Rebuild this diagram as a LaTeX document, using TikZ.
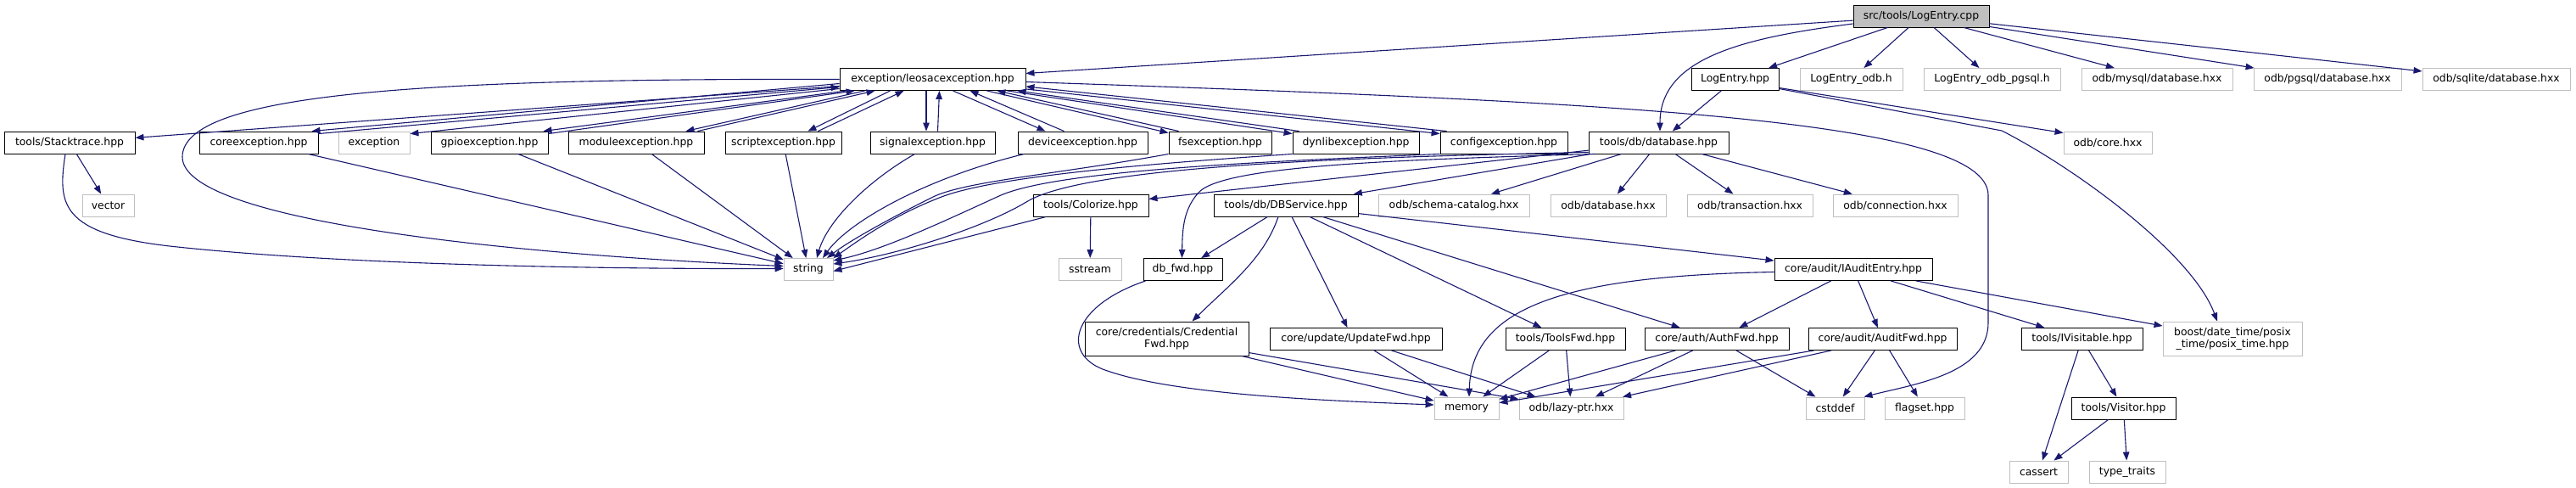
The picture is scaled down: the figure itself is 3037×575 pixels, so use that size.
\documentclass[tikz,border=0pt]{standalone}
\usepackage{fontspec}
\setmainfont{DejaVu Sans}
\usetikzlibrary{arrows.meta}
\definecolor{inclblue}{HTML}{191970}
\definecolor{extgray}{HTML}{BFBFBF}
\tikzset{
  file/.style={draw=black, line width=0.9pt, minimum height=26pt, inner sep=0pt,
    align=center, font=\fontsize{12.4}{14}\selectfont},
  extfile/.style={file, draw=extgray},
  incl/.style={draw=inclblue, line width=1.1pt, -{Triangle[length=10pt,width=7.5pt]}},
}
\begin{document}
\begin{tikzpicture}[x=1pt, y=-1pt]
  \useasboundingbox (0,0) rectangle (3037,575);
  % files, row by row
  \node[file, fill=extgray, minimum width=160pt] (cpp) at (2265,19) {src/tools/LogEntry.cpp};
  \node[file, minimum width=219pt] (leosac) at (1099.5,93.5) {exception/leosacexception.hpp};
  \node[file, minimum width=103pt] (logh) at (2045.5,93.5) {LogEntry.hpp};
  \node[extfile, minimum width=121pt] (odbh) at (2182.5,93.5) {LogEntry\_odb.h};
  \node[extfile, minimum width=161pt] (pgsqlh) at (2348.5,93.5) {LogEntry\_odb\_pgsql.h};
  \node[extfile, minimum width=178pt] (mysqldb) at (2543,93.5) {odb/mysql/database.hxx};
  \node[extfile, minimum width=174pt] (pgsqldb) at (2744,93.5) {odb/pgsql/database.hxx};
  \node[extfile, minimum width=174pt] (sqlitedb) at (2943,93.5) {odb/sqlite/database.hxx};

  \node[file, minimum width=154pt] (stack) at (82,168) {tools/Stacktrace.hpp};
  \node[file, minimum width=140pt] (coreexc) at (305,168) {coreexception.hpp};
  \node[extfile, minimum width=84pt] (exc) at (441,168) {exception};
  \node[file, minimum width=138pt] (gpioexc) at (577,168) {gpioexception.hpp};
  \node[file, minimum width=160pt] (moduleexc) at (750,168) {moduleexception.hpp};
  \node[file, minimum width=137pt] (scriptexc) at (923.5,168) {scriptexception.hpp};
  \node[file, minimum width=147pt] (signalexc) at (1099.5,168) {signalexception.hpp};
  \node[file, minimum width=153pt] (deviceexc) at (1276.5,168) {deviceexception.hpp};
  \node[file, minimum width=121pt] (fsexc) at (1438.5,168) {fsexception.hpp};
  \node[file, minimum width=149pt] (dynlibexc) at (1598.5,168) {dynlibexception.hpp};
  \node[file, minimum width=150pt] (configexc) at (1773,168) {configexception.hpp};
  \node[file, minimum width=165pt] (database) at (1955.5,168) {tools/db/database.hpp};
  \node[extfile, minimum width=104pt] (odbcore) at (2485,168) {odb/core.hxx};

  \node[extfile, minimum width=61pt] (vector) at (127.5,242) {vector};
  \node[file, minimum width=136pt] (colorize) at (1286,242) {tools/Colorize.hpp};
  \node[file, minimum width=170pt] (dbservice) at (1516,242) {tools/db/DBService.hpp};
  \node[extfile, minimum width=178pt] (schema) at (1714,242) {odb/schema-catalog.hxx};
  \node[extfile, minimum width=136pt] (odbdb) at (1896,242) {odb/database.hxx};
  \node[extfile, minimum width=148pt] (odbtrans) at (2063,242) {odb/transaction.hxx};
  \node[extfile, minimum width=147pt] (odbconn) at (2234.5,242) {odb/connection.hxx};

  \node[extfile, minimum width=58pt] (string) at (953,317.5) {string};
  \node[extfile, minimum width=74pt] (sstream) at (1285,317.5) {sstream};
  \node[file, minimum width=93pt] (dbfwd) at (1394.5,317.5) {db\_fwd.hpp};
  \node[file, minimum width=186pt] (iaudit) at (2185,317.5) {core/audit/IAuditEntry.hpp};

  \node[file, minimum width=193pt, minimum height=40pt] (credfwd) at (1375.5,399) {core/credentials/Credential\\Fwd.hpp};
  \node[file, minimum width=203pt] (updfwd) at (1598.5,399.5) {core/update/UpdateFwd.hpp};
  \node[file, minimum width=141pt] (toolsfwd) at (1845.5,399.5) {tools/ToolsFwd.hpp};
  \node[file, minimum width=170pt] (authfwd) at (2024,399.5) {core/auth/AuthFwd.hpp};
  \node[file, minimum width=175pt] (auditfwd) at (2219.5,399.5) {core/audit/AuditFwd.hpp};
  \node[file, minimum width=143pt] (ivisit) at (2454.5,399.5) {tools/IVisitable.hpp};
  \node[extfile, minimum width=164pt, minimum height=40pt] (boost) at (2632,399) {boost/date\_time/posix\\\_time/posix\_time.hpp};

  \node[extfile, minimum width=76pt] (memory) at (1729,481) {memory};
  \node[extfile, minimum width=123pt] (lazyptr) at (1852.5,481) {odb/lazy-ptr.hxx};
  \node[extfile, minimum width=69pt] (cstddef) at (2163.5,481) {cstddef};
  \node[extfile, minimum width=94pt] (flagset) at (2269,481) {flagset.hpp};
  \node[file, minimum width=123pt] (visitor) at (2503.5,481) {tools/Visitor.hpp};

  \node[extfile, minimum width=69pt] (cassert) at (2403.5,556) {cassert};
  \node[extfile, minimum width=90pt] (typetraits) at (2508,556) {type\_traits};

  % LogEntry.cpp
  \draw[incl] (cpp) -- (leosac);
  \draw[incl] ([yshift=-9pt]cpp.west) .. controls (2050,45) and (1957,70) .. ([xshift=1.5pt]database.north);
  \draw[incl] (cpp) -- (logh);
  \draw[incl] (cpp) -- (odbh);
  \draw[incl] (cpp) -- (pgsqlh);
  \draw[incl] (cpp) -- (mysqldb);
  \draw[incl] (cpp) -- (pgsqldb);
  \draw[incl] (cpp) -- (sqlitedb);
  % LogEntry.hpp
  \draw[incl] (logh) -- (database);
  \draw[incl] ([yshift=-10pt]logh.east) -- ([yshift=-2pt]odbcore.north west);
  \draw[incl] ([yshift=-11pt]logh.east) -- (2360,154) .. controls (2450,200) and (2585,300) .. ([xshift=-18pt]boost.north);
  % leosacexception.hpp and back
  \draw[incl] (leosac) -- (stack);
  \draw[incl] (leosac.west) .. controls (500,92) and (215,110) .. (215,185)
    .. controls (215,260) and (600,300) .. ([yshift=4pt]string.west);
  \draw[incl] ([yshift=-3pt]leosac.east) .. controls (1900,120) and (2344,140) .. (2344,230)
    -- (2344,380) .. controls (2344,440) and (2260,452) .. ([xshift=-1pt]cstddef.north east);
  \draw[incl] ([yshift=-5pt]leosac.west) -- ([xshift=-8pt]coreexc.north east);
  \draw[incl] ([yshift=-3pt]coreexc.north east) -- ([yshift=-9pt]leosac.west);
  \draw[incl] ([yshift=-11pt]leosac.west) -- ([yshift=-3pt]exc.north east);
  \draw[incl] ([xshift=8pt]leosac.south west) -- ([xshift=-6pt]gpioexc.north east);
  \draw[incl] ([yshift=-3pt]gpioexc.north east) -- ([xshift=18pt]leosac.south west);
  \draw[incl] ([xshift=30pt]leosac.south west) -- ([xshift=-22pt]moduleexc.north east);
  \draw[incl] ([xshift=-8pt]moduleexc.north east) -- ([xshift=42pt]leosac.south west);
  \draw[incl] ([xshift=60pt]leosac.south west) -- ([xshift=-40pt]scriptexc.north east);
  \draw[incl] ([xshift=-28pt]scriptexc.north east) -- ([xshift=76pt]leosac.south west);
  \draw[incl] ([xshift=-7.5pt]leosac.south) -- ([xshift=-7.5pt]signalexc.north);
  \draw[incl] ([xshift=6pt]signalexc.north) -- ([xshift=8pt]leosac.south);
  \draw[incl] ([xshift=24pt]leosac.south) -- ([xshift=-44pt]deviceexc.north);
  \draw[incl] ([xshift=-22pt]deviceexc.north) -- ([xshift=44pt]leosac.south);
  \draw[incl] ([xshift=64pt]leosac.south) -- ([yshift=-2pt]fsexc.north west);
  \draw[incl] ([xshift=12pt]fsexc.north west) -- ([xshift=76pt]leosac.south);
  \draw[incl] ([xshift=88pt]leosac.south) -- ([yshift=-3pt]dynlibexc.north west);
  \draw[incl] ([xshift=8pt]dynlibexc.north west) -- ([xshift=100pt]leosac.south);
  \draw[incl] ([yshift=2pt]leosac.south east) -- ([yshift=-3pt]configexc.north west);
  \draw[incl] ([xshift=8pt]configexc.north west) -- ([yshift=5pt]leosac.south east);
  % into string
  \draw[incl] (stack) -- (vector);
  \draw[incl] ([xshift=-5pt]stack.south) .. controls (68,240) and (70,275) .. (200,290)
    .. controls (400,312) and (700,317) .. ([yshift=1pt]string.west);
  \draw[incl] (coreexc) -- (string);
  \draw[incl] (gpioexc) -- (string);
  \draw[incl] (moduleexc) -- (string);
  \draw[incl] (scriptexc) -- (string);
  \draw[incl] ([xshift=-21pt]signalexc.south) .. controls (1020,215) and (975,262) .. ([xshift=10pt]string.north);
  \draw[incl] ([xshift=-69pt]deviceexc.south) .. controls (1090,210) and (1000,262) .. ([xshift=17pt]string.north);
  \draw[incl] (fsexc.south west) .. controls (1250,205) and (1140,213) .. (1100,232)
    .. controls (1040,262) and (1000,285) .. ([xshift=22pt]string.north);
  \draw[incl] (dynlibexc.south west) .. controls (1400,190) and (1180,205) .. (1110,232)
    .. controls (1050,255) and (1010,285) .. (string.north east);
  \draw[incl] (configexc.south west) .. controls (1500,190) and (1250,200) .. (1180,230)
    .. controls (1110,262) and (1040,295) .. ([yshift=-3pt]string.north east);
  \draw[incl] ([yshift=2pt]database.south west) .. controls (1600,185) and (1280,195) .. (1210,238)
    .. controls (1160,268) and (1060,300) .. ([yshift=-7pt]string.north east);
  \draw[incl] (colorize) -- ([yshift=-2pt]string.east);
  \draw[incl] (colorize) -- (sstream);
  % tools/db/database.hpp
  \draw[incl] (database) -- (colorize);
  \draw[incl] (database) -- (dbservice);
  \draw[incl] ([xshift=8pt]database.south west) .. controls (1650,188) and (1450,195) .. (1415,225)
    .. controls (1395,245) and (1394,270) .. ([xshift=-1pt]dbfwd.north);
  \draw[incl] (database) -- (schema);
  \draw[incl] (database) -- (odbdb);
  \draw[incl] (database) -- (odbtrans);
  \draw[incl] (database) -- (odbconn);
  % tools/db/DBService.hpp
  \draw[incl] (dbservice) -- (dbfwd);
  \draw[incl] ([xshift=-9pt]dbservice.south) .. controls (1490,305) and (1450,335) .. ([xshift=30pt]credfwd.north);
  \draw[incl] ([xshift=7pt]dbservice.south) -- ([xshift=-10pt]updfwd.north);
  \draw[incl] (dbservice) -- (toolsfwd);
  \draw[incl] (dbservice) -- (authfwd);
  \draw[incl] (dbservice) -- (iaudit);
  \draw[incl] ([xshift=3pt]dbfwd.south west) .. controls (1265,360) and (1250,415) .. (1300,435)
    .. controls (1380,465) and (1560,472) .. ([yshift=4pt]memory.west);
  % core/audit/IAuditEntry.hpp
  \draw[incl] ([yshift=-3pt]iaudit.west) .. controls (1850,325) and (1735,360) .. ([xshift=3pt]memory.north);
  \draw[incl] (iaudit) -- (authfwd);
  \draw[incl] (iaudit) -- (auditfwd);
  \draw[incl] (iaudit) -- (ivisit);
  \draw[incl] (iaudit) -- (boost);
  % forward headers
  \draw[incl] (credfwd) -- (memory);
  \draw[incl] (credfwd) -- (lazyptr);
  \draw[incl] (updfwd) -- (memory);
  \draw[incl] (updfwd) -- (lazyptr);
  \draw[incl] (toolsfwd) -- (memory);
  \draw[incl] (toolsfwd) -- (lazyptr);
  \draw[incl] (authfwd) -- (memory);
  \draw[incl] (authfwd) -- (lazyptr);
  \draw[incl] (authfwd) -- (cstddef);
  \draw[incl] (auditfwd) -- (memory);
  \draw[incl] (auditfwd) -- (lazyptr);
  \draw[incl] (auditfwd) -- (cstddef);
  \draw[incl] (auditfwd) -- (flagset);
  \draw[incl] (ivisit) -- (cassert);
  \draw[incl] (ivisit) -- (visitor);
  \draw[incl] (visitor) -- (cassert);
  \draw[incl] (visitor) -- (typetraits);
\end{tikzpicture}
\end{document}
